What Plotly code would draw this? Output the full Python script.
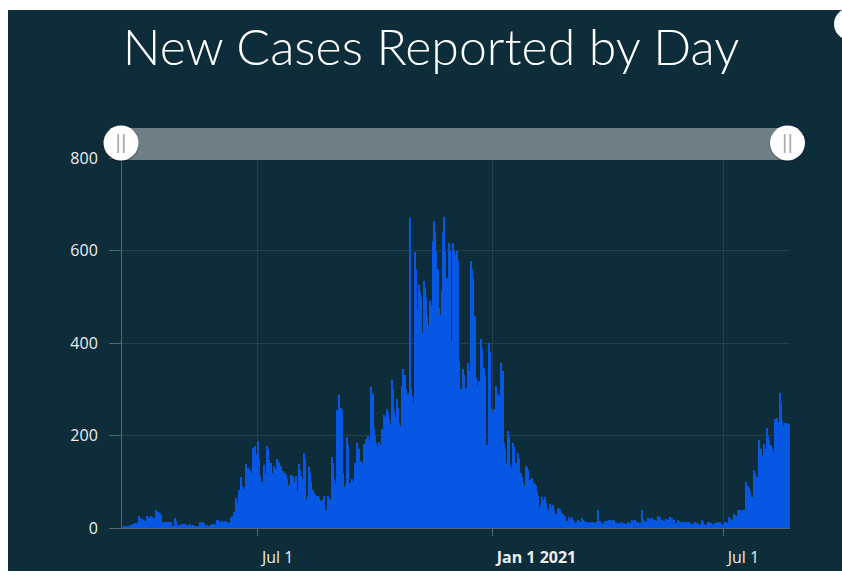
import pandas as pd
import plotly.graph_objects as go

# ---------------- data ----------------
title_text = "New Cases Reported by Day"
start_date = "2020-03-16"

daily_new_cases = [
    1, 2, 3, 3, 4, 5, 5, 6, 7,
    8, 9, 10, 9, 12,
    26, 22, 20,
    17, 15, 16,
    26, 24, 22, 25,
    24, 20, 22,
    38, 30,
    35, 33, 28,
    14, 14, 13, 14, 14, 13, 12, 14,
    4, 3,
    22, 15,
    6, 7, 5, 6,
    9, 9, 8, 7,
    7, 6, 8, 5, 6,
    3, 4, 3, 4, 5,
    13, 10, 12, 9,
    5, 6, 4, 5, 7,
    8, 9, 7, 8,
    18, 17, 16, 14,
    15, 13, 16, 12,
    12, 10, 14, 22, 25, 35, 30,
    64, 55, 82, 70, 110, 90, 85, 88, 139, 130,
    118, 126, 120, 173, 150, 177, 160, 188, 150, 112,
    100, 83, 137, 120, 178, 170, 148, 140, 115, 120,
    134, 128, 149, 145, 141, 135, 112, 123, 118, 115,
    105, 90, 95, 115, 108, 112, 100, 112, 80, 139,
    125, 112, 105, 162, 150, 63, 70, 132, 120, 100,
    83, 75, 72, 70, 70, 65, 58, 60, 55, 70,
    38, 40, 69, 65, 60, 154, 140, 105, 95, 256,
    250, 287, 260, 256,
    120, 89, 95, 196, 180, 97,
    90, 105, 100, 141, 130, 184, 170, 130, 144, 140,
    181, 175, 193, 199, 190, 185, 305, 290, 214, 200,
    184, 175, 186, 180, 213, 205, 245, 240, 258, 250,
    235, 225, 321, 300,
    253, 240, 278, 260, 227, 220,
    307, 343, 330, 300, 285, 290, 671, 300, 285, 270,
    596, 560, 473, 525, 510, 500, 422, 534, 520, 500,
    458, 440, 491, 480, 620, 664, 640, 599, 560, 476,
    460, 512, 640, 673, 600, 541, 520, 617, 600, 404,
    617, 600, 590, 599, 580, 361, 300, 274, 343, 330,
    303, 290, 357, 340, 578, 560, 540, 458, 325, 310,
    318, 300, 408, 390, 347, 330, 173, 180, 399, 380,
    260, 250, 258, 240, 308, 290, 285, 270, 357, 340,
    184, 170, 141, 209, 200, 137, 130, 184, 175, 141,
    135, 162, 150, 119, 110, 97, 90, 135, 132, 125,
    103, 98, 109, 100, 96, 90, 78, 70, 44, 50,
    68, 60, 67, 55, 44, 40, 51, 45, 49, 40,
    27, 30, 44, 38, 41, 35, 30, 27, 25, 16,
    14, 23, 20, 23, 18, 12, 10, 12, 17, 15,
    14, 21, 18, 16, 14, 12, 12, 11, 12, 10,
    12, 11, 12, 10, 39, 15, 10, 9, 10, 16,
    14, 15, 17, 16, 17, 15, 17, 12, 10, 11,
    9, 8, 12, 11, 10, 9, 8, 12, 11, 10,
    17, 15, 16, 17, 14, 12, 11, 10, 39, 20,
    16, 14, 16, 22, 20, 21, 22, 18, 17, 15,
    14, 25, 24, 16, 17, 15, 14, 20, 18, 19,
    23, 20, 22, 18, 11, 10, 17, 16, 12, 13,
    12, 13, 11, 13, 12, 13, 10, 9, 8, 9,
    13, 11, 8, 7, 8, 17, 12, 8, 7, 8,
    13, 12, 10, 8, 7, 11, 10, 9, 13, 12,
    8, 7, 8, 13, 12, 10, 23, 20, 20, 18,
    31, 28, 25, 39, 35, 39, 37, 39, 38, 24,
    100, 90, 86, 80, 68, 60, 126, 120, 111, 100,
    191, 170, 155, 140, 182, 170, 217, 200, 191, 180,
    171, 165, 236, 225, 238, 230, 292, 270, 231, 220,
    228, 215, 228, 225,
]

x_tick_dates = ["2020-07-01", "2021-01-01", "2021-07-01"]
x_tick_labels = ["Jul 1", "<b>Jan 1 2021</b>", "Jul 1"]
y_tick_values = [0, 200, 400, 600, 800]
x_range = ["2020-03-16 12:00", "2021-08-22 00:00"]
y_range = [0, 800]

dates = pd.date_range(start_date, periods=len(daily_new_cases), freq="D")

# ---------------- layout geometry ----------------
# body margin is removed (post_script), so the figure sits at (0, 0)
W, H = 842, 578
# plot area in page pixels: x 122..790, y 158..528
L, T = 122, 158
R = W - 790
B = H - 528
PW, PH = W - L - R, H - T - B


def px(x):
    """page x pixel -> paper fraction"""
    return (x - L) / PW


def py(y):
    """page y pixel -> paper fraction"""
    return (H - B - y) / PH


BG = "#0e2d3a"
BAR = "#0658e4"
GRID = "rgba(255,255,255,0.09)"
AXIS = "#55666d"
LABEL = "#eceeef"

fig = go.Figure(
    go.Bar(
        x=dates,
        y=daily_new_cases,
        marker=dict(color=BAR, line=dict(width=0)),
        hoverinfo="x+y",
    )
)

shapes = [
    # dark card
    dict(type="rect", xref="paper", yref="paper", layer="below",
         x0=px(8), x1=px(850), y0=py(571), y1=py(10),
         fillcolor=BG, line=dict(width=0)),
    # top-right white circle (partly off-canvas)
    dict(type="circle", xref="paper", yref="paper", layer="above",
         x0=px(834), x1=px(866), y0=py(40), y1=py(8),
         fillcolor="white", line=dict(width=0)),
    # slider bar
    dict(type="rect", xref="paper", yref="paper", layer="above",
         x0=px(122), x1=px(788), y0=py(160), y1=py(128),
         fillcolor="#6e7f86", line=dict(width=0)),
]
for cx in (121, 787.5):
    shapes.append(dict(type="circle", xref="paper", yref="paper", layer="above",
                       x0=px(cx - 18), x1=px(cx + 18), y0=py(162), y1=py(126),
                       fillcolor="rgba(0,0,0,0.25)", line=dict(width=0)))
    shapes.append(dict(type="circle", xref="paper", yref="paper", layer="above",
                       x0=px(cx - 17.5), x1=px(cx + 17.5), y0=py(160.5), y1=py(125.5),
                       fillcolor="white", line=dict(width=0)))
    for dx in (-2.8, 2.8):
        shapes.append(dict(type="line", xref="paper", yref="paper", layer="above",
                           x0=px(cx + dx), x1=px(cx + dx), y0=py(153), y1=py(134),
                           line=dict(color="#a7afb2", width=1.8)))

fig.update_layout(
    width=W, height=H,
    autosize=False,
    margin=dict(l=L, r=R, t=T, b=B, pad=0, autoexpand=False),
    paper_bgcolor="white",
    plot_bgcolor=BG,
    bargap=0,
    showlegend=False,
    shapes=shapes,
    title=dict(
        text=title_text,
        font=dict(family="Lato", size=50, weight=300, color="white"),
        x=431 / W, xref="container", xanchor="center",
        y=1 - 47 / H, yref="container", yanchor="middle",
    ),
    xaxis=dict(
        type="date",
        range=x_range,
        automargin=False,
        tickvals=x_tick_dates,
        ticktext=x_tick_labels,
        ticks="outside", ticklen=7, tickcolor=AXIS, tickwidth=1,
        ticklabelposition="outside right",
        ticklabelstandoff=15,
        ticklabelshift=3,
        tickfont=dict(family="Open Sans", size=16, color=LABEL),
        showgrid=True, gridcolor=GRID, gridwidth=1,
        showline=True, linecolor=AXIS, linewidth=1,
        zeroline=False,
    ),
    yaxis=dict(
        range=y_range,
        automargin=False,
        tickvals=y_tick_values,
        ticks="outside", ticklen=12, tickcolor=AXIS, tickwidth=1,
        ticklabelstandoff=8,
        tickfont=dict(family="Open Sans", size=16, color=LABEL),
        showgrid=True, gridcolor=GRID, gridwidth=1,
        showline=True, linecolor=AXIS, linewidth=1,
        zeroline=False,
    ),
)

fig.write_html(
    "out.html",
    config={"displayModeBar": False},
    post_script="document.body.style.margin='0';"
                "document.documentElement.style.overflow='hidden';",
)
